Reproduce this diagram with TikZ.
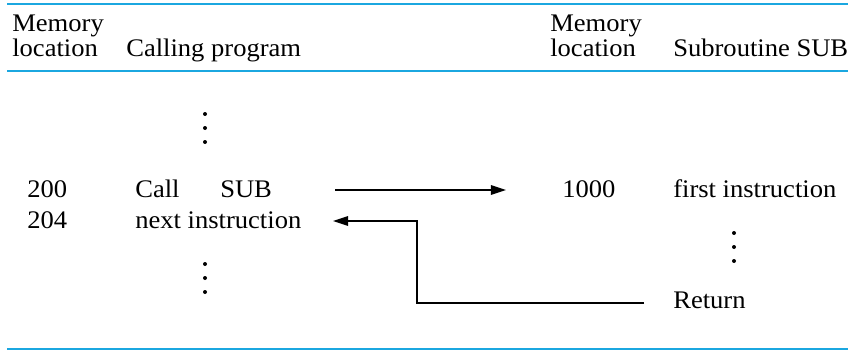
\documentclass[tikz,border=0pt]{standalone}
\usepackage{fontspec}
\setmainfont{Liberation Serif}[FakeStretch=1.05]
\usetikzlibrary{arrows.meta}
\definecolor{rulecyan}{RGB}{27,167,224}

\begin{document}
\begin{tikzpicture}[every node/.style = {inner sep=0pt, anchor=base west, font=\fontsize{18}{21}\selectfont},
	rule/.style = {rulecyan, line width=1.1pt},
	link/.style = {line width=1pt, -{Triangle[length=3.8mm,width=2.4mm]}}]
\useasboundingbox (0,0) rectangle (21.275,-8.75);

% header
\draw[rule] (0.175,-0.1) -- (21.2,-0.1);
\draw[rule] (0.175,-1.775) -- (21.2,-1.775);
\draw[rule] (0.175,-8.725) -- (21.2,-8.725);

\node (memA) at (0.3,-0.8) {Memory};
\node (locA) at (0.3,-1.4125) {location};
\node (calling) at (3.15,-1.4125) {Calling program};
\node (memB) at (13.75,-0.8) {Memory};
\node (locB) at (13.75,-1.4125) {location};
\node (subr) at (16.825,-1.4125) {Subroutine SUB};

% calling program
\node (a200) at (0.675,-4.925) {200};
\node (call) at (3.375,-4.925) {Call};
\node (sub) at (5.5,-4.925) {SUB};
\node (a204) at (0.675,-5.7) {204};
\node (next) at (3.375,-5.7) {next instruction};

% subroutine
\node (a1000) at (14.05,-4.925) {1000};
\node (first) at (16.825,-4.925) {first instruction};
\node (ret) at (16.825,-7.7) {Return};

% dots
\coordinate (p1) at (5.125,-2.85);
\coordinate (p2) at (5.125,-3.2);
\coordinate (p3) at (5.125,-3.55);
\coordinate (p4) at (5.125,-6.6);
\coordinate (p5) at (5.125,-6.95);
\coordinate (p6) at (5.125,-7.3);
\coordinate (p7) at (18.35,-5.825);
\coordinate (p8) at (18.35,-6.175);
\coordinate (p9) at (18.35,-6.525);
\foreach \i in {1,...,9}
{
	\fill (p\i) circle [radius=0.05];
};

% links
\coordinate (go) at (8.375,-4.75);
\coordinate (goin) at (12.65,-4.75);
\coordinate (back) at (16.1,-7.575);
\coordinate (corner) at (10.425,-7.575);
\coordinate (backin) at (8.325,-5.525);
\draw[link] (go) -- (goin);
\draw[link] (back) -- (corner) |- (backin);
\end{tikzpicture}
\end{document}
